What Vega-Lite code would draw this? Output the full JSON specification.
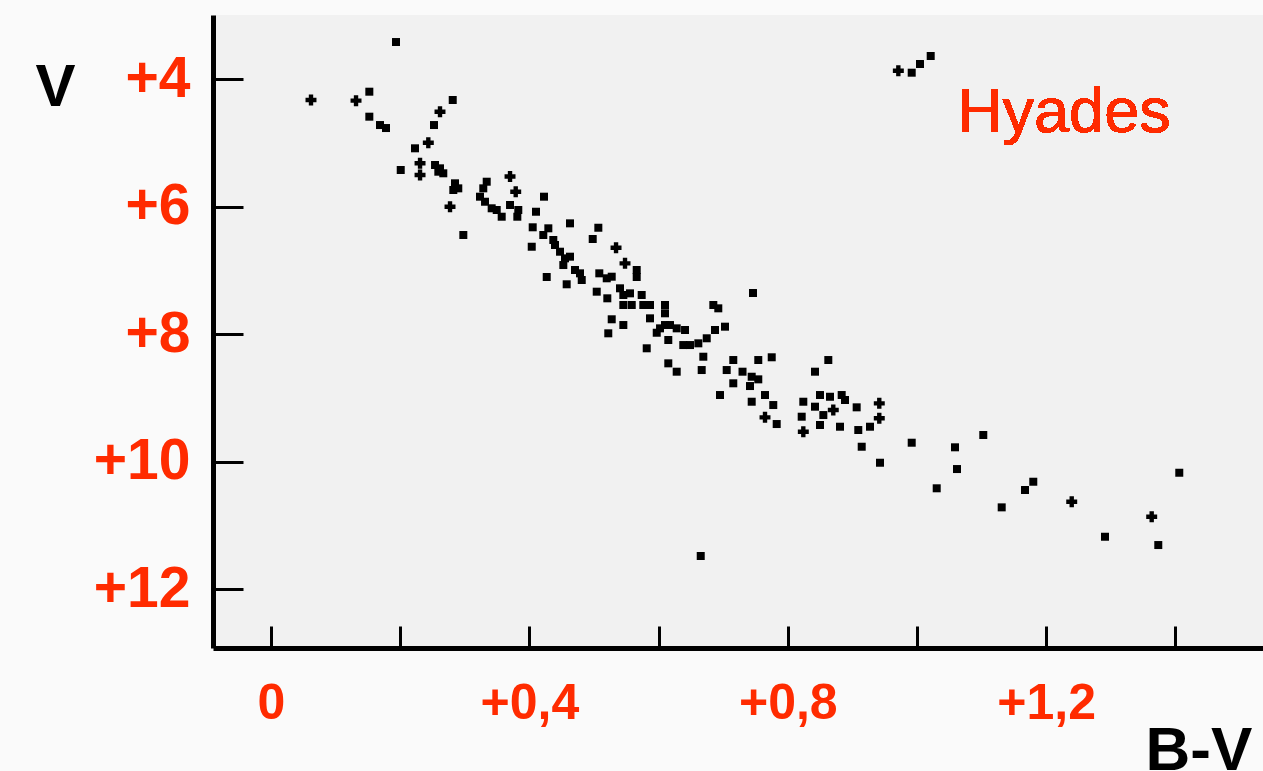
{
  "$schema": "https://vega.github.io/schema/vega-lite/v6.json",
  "width": 1050,
  "height": 633,
  "autosize": "none",
  "padding": {"left": 213, "top": 15, "right": 0, "bottom": 123},
  "background": "#fafafa",
  "config": {
    "view": {"stroke": null, "fill": "#f1f1f1"},
    "font": "Liberation Sans"
  },
  "data": {
    "values": [
      {"bv": 0.1935, "v": 3.42, "m": "sq"},
      {"bv": 0.0619, "v": 4.329, "m": "plus"},
      {"bv": 0.1316, "v": 4.34, "m": "plus"},
      {"bv": 0.1522, "v": 4.199, "m": "sq"},
      {"bv": 0.1522, "v": 4.591, "m": "sq"},
      {"bv": 0.1687, "v": 4.722, "m": "sq"},
      {"bv": 0.178, "v": 4.769, "m": "sq"},
      {"bv": 0.2813, "v": 4.329, "m": "sq"},
      {"bv": 0.2616, "v": 4.513, "m": "plus"},
      {"bv": 0.2523, "v": 4.722, "m": "sq"},
      {"bv": 0.2435, "v": 4.999, "m": "plus"},
      {"bv": 0.2229, "v": 5.087, "m": "sq"},
      {"bv": 0.2008, "v": 5.427, "m": "sq"},
      {"bv": 0.2307, "v": 5.322, "m": "plus"},
      {"bv": 0.2307, "v": 5.506, "m": "plus"},
      {"bv": 0.2539, "v": 5.349, "m": "sq"},
      {"bv": 0.2616, "v": 5.401, "m": "sq"},
      {"bv": 0.2667, "v": 5.479, "m": "sq"},
      {"bv": 0.259, "v": 5.454, "m": "sq"},
      {"bv": 0.2848, "v": 5.636, "m": "sq"},
      {"bv": 0.2822, "v": 5.741, "m": "sq"},
      {"bv": 0.2899, "v": 5.715, "m": "sq"},
      {"bv": 0.2771, "v": 6.003, "m": "plus"},
      {"bv": 0.3339, "v": 5.611, "m": "sq"},
      {"bv": 0.3286, "v": 5.715, "m": "sq"},
      {"bv": 0.3235, "v": 5.846, "m": "sq"},
      {"bv": 0.3313, "v": 5.925, "m": "sq"},
      {"bv": 0.3416, "v": 6.028, "m": "sq"},
      {"bv": 0.3494, "v": 6.055, "m": "sq"},
      {"bv": 0.3571, "v": 6.16, "m": "sq"},
      {"bv": 0.37, "v": 5.529, "m": "plus"},
      {"bv": 0.3788, "v": 5.768, "m": "plus"},
      {"bv": 0.37, "v": 5.976, "m": "sq"},
      {"bv": 0.3828, "v": 6.055, "m": "sq"},
      {"bv": 0.3813, "v": 6.16, "m": "sq"},
      {"bv": 0.4226, "v": 5.846, "m": "sq"},
      {"bv": 0.4102, "v": 6.082, "m": "sq"},
      {"bv": 0.4628, "v": 6.264, "m": "sq"},
      {"bv": 0.4051, "v": 6.326, "m": "sq"},
      {"bv": 0.4293, "v": 6.342, "m": "sq"},
      {"bv": 0.5067, "v": 6.333, "m": "sq"},
      {"bv": 0.2977, "v": 6.447, "m": "sq"},
      {"bv": 0.4215, "v": 6.447, "m": "sq"},
      {"bv": 0.437, "v": 6.525, "m": "sq"},
      {"bv": 0.4396, "v": 6.604, "m": "sq"},
      {"bv": 0.4474, "v": 6.709, "m": "sq"},
      {"bv": 0.4551, "v": 6.813, "m": "sq"},
      {"bv": 0.4628, "v": 6.787, "m": "sq"},
      {"bv": 0.4525, "v": 6.918, "m": "sq"},
      {"bv": 0.4706, "v": 6.996, "m": "sq"},
      {"bv": 0.4783, "v": 7.048, "m": "sq"},
      {"bv": 0.4036, "v": 6.631, "m": "sq"},
      {"bv": 0.498, "v": 6.51, "m": "sq"},
      {"bv": 0.5341, "v": 6.646, "m": "plus"},
      {"bv": 0.548, "v": 6.891, "m": "plus"},
      {"bv": 0.5661, "v": 6.996, "m": "sq"},
      {"bv": 0.5661, "v": 7.106, "m": "sq"},
      {"bv": 0.4268, "v": 7.106, "m": "sq"},
      {"bv": 0.4577, "v": 7.22, "m": "sq"},
      {"bv": 0.481, "v": 7.153, "m": "sq"},
      {"bv": 0.5082, "v": 7.048, "m": "sq"},
      {"bv": 0.5197, "v": 7.126, "m": "sq"},
      {"bv": 0.5274, "v": 7.101, "m": "sq"},
      {"bv": 0.5042, "v": 7.336, "m": "sq"},
      {"bv": 0.5206, "v": 7.44, "m": "sq"},
      {"bv": 0.5402, "v": 7.283, "m": "sq"},
      {"bv": 0.5454, "v": 7.388, "m": "sq"},
      {"bv": 0.5557, "v": 7.362, "m": "sq"},
      {"bv": 0.5454, "v": 7.545, "m": "sq"},
      {"bv": 0.5584, "v": 7.545, "m": "sq"},
      {"bv": 0.5738, "v": 7.388, "m": "sq"},
      {"bv": 0.5763, "v": 7.545, "m": "sq"},
      {"bv": 0.5867, "v": 7.545, "m": "sq"},
      {"bv": 0.6099, "v": 7.545, "m": "sq"},
      {"bv": 0.6099, "v": 7.675, "m": "sq"},
      {"bv": 0.6847, "v": 7.545, "m": "sq"},
      {"bv": 0.6924, "v": 7.597, "m": "sq"},
      {"bv": 0.7461, "v": 7.357, "m": "sq"},
      {"bv": 0.5274, "v": 7.769, "m": "sq"},
      {"bv": 0.5454, "v": 7.859, "m": "sq"},
      {"bv": 0.5221, "v": 7.989, "m": "sq"},
      {"bv": 0.5867, "v": 7.754, "m": "sq"},
      {"bv": 0.6022, "v": 7.911, "m": "sq"},
      {"bv": 0.6099, "v": 7.859, "m": "sq"},
      {"bv": 0.6176, "v": 7.859, "m": "sq"},
      {"bv": 0.628, "v": 7.911, "m": "sq"},
      {"bv": 0.6409, "v": 7.937, "m": "sq"},
      {"bv": 0.615, "v": 8.094, "m": "sq"},
      {"bv": 0.5971, "v": 7.98, "m": "sq"},
      {"bv": 0.6873, "v": 7.937, "m": "sq"},
      {"bv": 0.7028, "v": 7.885, "m": "sq"},
      {"bv": 0.5816, "v": 8.224, "m": "sq"},
      {"bv": 0.6382, "v": 8.173, "m": "sq"},
      {"bv": 0.6486, "v": 8.173, "m": "sq"},
      {"bv": 0.6615, "v": 8.146, "m": "sq"},
      {"bv": 0.6745, "v": 8.067, "m": "sq"},
      {"bv": 0.6692, "v": 8.356, "m": "sq"},
      {"bv": 0.615, "v": 8.46, "m": "sq"},
      {"bv": 0.628, "v": 8.591, "m": "sq"},
      {"bv": 0.6667, "v": 8.565, "m": "sq"},
      {"bv": 0.7054, "v": 8.565, "m": "sq"},
      {"bv": 0.7156, "v": 8.408, "m": "sq"},
      {"bv": 0.7299, "v": 8.591, "m": "sq"},
      {"bv": 0.7441, "v": 8.67, "m": "sq"},
      {"bv": 0.7543, "v": 8.711, "m": "sq"},
      {"bv": 0.7543, "v": 8.408, "m": "sq"},
      {"bv": 0.7751, "v": 8.365, "m": "sq"},
      {"bv": 0.7156, "v": 8.773, "m": "sq"},
      {"bv": 0.7415, "v": 8.816, "m": "sq"},
      {"bv": 0.695, "v": 8.957, "m": "sq"},
      {"bv": 0.7441, "v": 9.062, "m": "sq"},
      {"bv": 0.7647, "v": 8.957, "m": "sq"},
      {"bv": 0.7775, "v": 9.114, "m": "sq"},
      {"bv": 0.7647, "v": 9.307, "m": "plus"},
      {"bv": 0.7828, "v": 9.412, "m": "sq"},
      {"bv": 0.8627, "v": 8.408, "m": "sq"},
      {"bv": 0.8421, "v": 8.591, "m": "sq"},
      {"bv": 0.824, "v": 9.062, "m": "sq"},
      {"bv": 0.8498, "v": 8.957, "m": "sq"},
      {"bv": 0.8653, "v": 8.984, "m": "sq"},
      {"bv": 0.8834, "v": 8.957, "m": "sq"},
      {"bv": 0.8885, "v": 9.035, "m": "sq"},
      {"bv": 0.9066, "v": 9.15, "m": "sq"},
      {"bv": 0.8421, "v": 9.14, "m": "sq"},
      {"bv": 0.855, "v": 9.271, "m": "sq"},
      {"bv": 0.8704, "v": 9.192, "m": "plus"},
      {"bv": 0.8215, "v": 9.297, "m": "sq"},
      {"bv": 0.824, "v": 9.533, "m": "plus"},
      {"bv": 0.8498, "v": 9.427, "m": "sq"},
      {"bv": 0.8808, "v": 9.454, "m": "sq"},
      {"bv": 0.9091, "v": 9.506, "m": "sq"},
      {"bv": 0.9272, "v": 9.454, "m": "sq"},
      {"bv": 0.9416, "v": 9.087, "m": "plus"},
      {"bv": 0.9416, "v": 9.322, "m": "plus"},
      {"bv": 0.9144, "v": 9.768, "m": "sq"},
      {"bv": 0.9427, "v": 10.019, "m": "sq"},
      {"bv": 0.9918, "v": 9.705, "m": "sq"},
      {"bv": 1.0588, "v": 9.777, "m": "sq"},
      {"bv": 1.0619, "v": 10.118, "m": "sq"},
      {"bv": 1.1026, "v": 9.584, "m": "sq"},
      {"bv": 1.0305, "v": 10.42, "m": "sq"},
      {"bv": 1.18, "v": 10.317, "m": "sq"},
      {"bv": 1.1672, "v": 10.447, "m": "sq"},
      {"bv": 1.1311, "v": 10.719, "m": "sq"},
      {"bv": 1.2395, "v": 10.631, "m": "plus"},
      {"bv": 1.406, "v": 10.176, "m": "sq"},
      {"bv": 1.3633, "v": 10.866, "m": "plus"},
      {"bv": 1.291, "v": 11.18, "m": "sq"},
      {"bv": 1.3735, "v": 11.31, "m": "sq"},
      {"bv": 0.9711, "v": 3.87, "m": "plus"},
      {"bv": 0.9918, "v": 3.901, "m": "sq"},
      {"bv": 1.0046, "v": 3.765, "m": "sq"},
      {"bv": 1.0212, "v": 3.639, "m": "sq"},
      {"bv": 0.6652, "v": 11.482, "m": "sq"}
    ]
  },
  "layer": [
    {
      "mark": {"type": "point", "filled": true, "opacity": 1, "color": "#000000", "strokeWidth": 0},
      "encoding": {
        "x": {
          "field": "bv", "type": "quantitative",
          "scale": {"domain": [-0.0898, 1.5356], "nice": false, "zero": false},
          "axis": {
            "values": [0, 0.2, 0.4, 0.6, 0.8, 1, 1.2, 1.4],
            "labelExpr": "datum.value == 0 ? '0' : (round(datum.value*10) % 4 == 0 ? '+' + replace(format(datum.value, '.1f'), '.', ',') : '')",
            "grid": false,
            "domainColor": "#000000", "domainWidth": 5,
            "tickColor": "#000000", "tickWidth": 3, "tickSize": -22,
            "labelColor": "#ff2b00", "labelFontSize": 50, "labelFont": "Liberation Sans", "labelFontWeight": "bold",
            "labelPadding": 52, "labelBaseline": "top", "labelFlush": false, "labelOverlap": false,
            "title": "B-V", "titleFont": "Liberation Sans", "titleFontSize": 62, "titleFontWeight": "bold", "titleColor": "#000000",
            "titleAnchor": "start", "titleAlign": "left", "titleBaseline": "alphabetic",
            "titleX": 932, "titleY": 121
          }
        },
        "y": {
          "field": "v", "type": "quantitative",
          "scale": {"domain": [2.996, 12.925], "nice": false, "zero": false, "reverse": true},
          "axis": {
            "values": [4, 6, 8, 10, 12],
            "labelExpr": "'+' + datum.value",
            "grid": false,
            "domainColor": "#000000", "domainWidth": 5,
            "tickColor": "#000000", "tickWidth": 3, "tickSize": -30,
            "labelColor": "#ff2b00", "labelFontSize": 57, "labelFont": "Liberation Sans", "labelFontWeight": "bold",
            "labelPadding": 53, "labelFlush": false, "labelOverlap": false,
            "title": "V", "titleFont": "Liberation Sans", "titleFontSize": 60, "titleFontWeight": "bold", "titleColor": "#000000",
            "titleAngle": 0, "titleAlign": "center", "titleBaseline": "alphabetic",
            "titleX": -158, "titleY": 90
          }
        },
        "shape": {
          "field": "m", "type": "nominal",
          "scale": {"domain": ["sq", "plus"], "range": ["square", "cross"]},
          "legend": null
        },
        "size": {
          "field": "m", "type": "nominal",
          "scale": {"domain": ["sq", "plus"], "range": [64, 120]},
          "legend": null
        }
      }
    },
    {
      "mark": {"type": "text", "text": "Hyades", "color": "#ff2b00", "font": "Liberation Sans", "fontSize": 63, "align": "left", "baseline": "alphabetic"},
      "encoding": {
        "x": {"datum": 1.062, "type": "quantitative"},
        "y": {"datum": 4.83, "type": "quantitative"}
      }
    }
  ]
}
